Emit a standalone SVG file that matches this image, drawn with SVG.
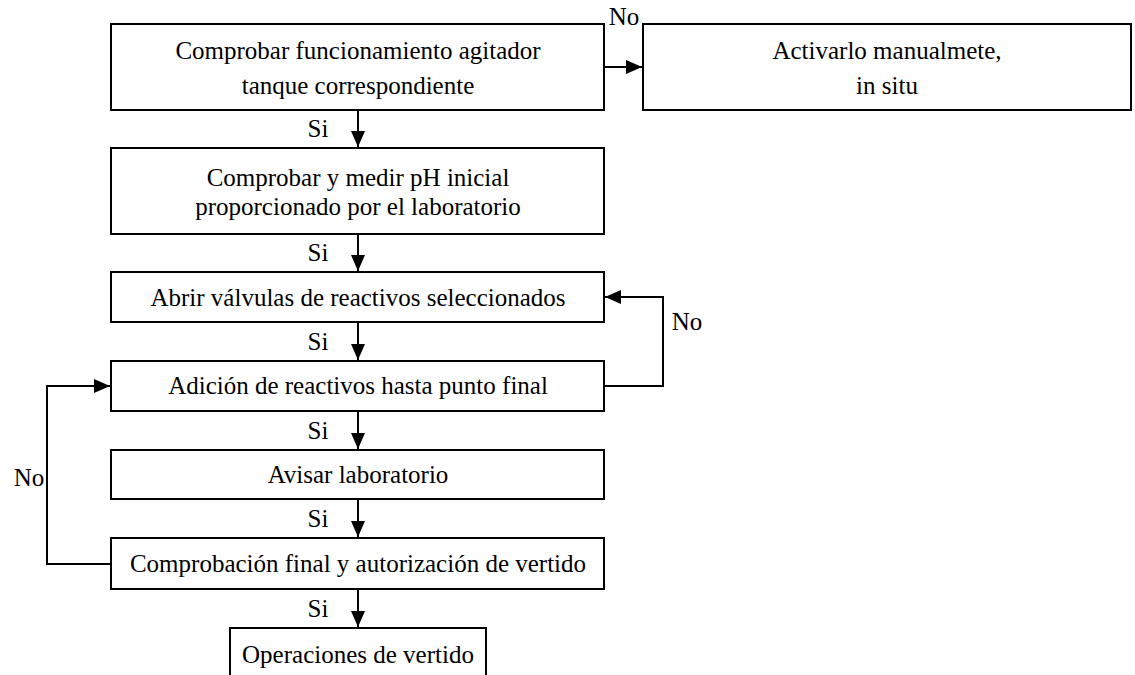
<svg xmlns="http://www.w3.org/2000/svg" width="1135" height="675" viewBox="0 0 1135 675">
  <style>
    .box { fill: #ffffff; stroke: #000000; stroke-width: 2; }
    .lbl { font-family: "Liberation Serif", "Times New Roman", serif; font-size: 25px; fill: #000000; text-anchor: middle; }
    .tag { font-family: "Liberation Serif", "Times New Roman", serif; font-size: 25px; fill: #000000; text-anchor: middle; }
    .wire { fill: none; stroke: #000000; stroke-width: 2; }
  </style>
  <defs>
    <marker id="head" viewBox="0 0 16 14" refX="16" refY="7" markerWidth="16" markerHeight="14" markerUnits="userSpaceOnUse" orient="auto">
      <path d="M0,0 L16,7 L0,14 Z" fill="#000000"/>
    </marker>
  </defs>
  <rect width="1135" height="675" fill="#ffffff"/>

  <!-- connectors -->
  <g id="connectors">
    <path class="wire" d="M604,67 H642" marker-end="url(#head)"/>
    <path class="wire" d="M358,110 V147" marker-end="url(#head)"/>
    <path class="wire" d="M358,234 V271" marker-end="url(#head)"/>
    <path class="wire" d="M358,322 V360" marker-end="url(#head)"/>
    <path class="wire" d="M358,411 V449" marker-end="url(#head)"/>
    <path class="wire" d="M358,499 V537" marker-end="url(#head)"/>
    <path class="wire" d="M358,589 V627" marker-end="url(#head)"/>
    <path class="wire" d="M604,386 H663 V297 H605" marker-end="url(#head)"/>
    <path class="wire" d="M111,564 H47 V386 H110" marker-end="url(#head)"/>
    <text class="tag" x="624" y="25">No</text>
    <text class="tag" x="318" y="137">Si</text>
    <text class="tag" x="318" y="261">Si</text>
    <text class="tag" x="318" y="350">Si</text>
    <text class="tag" x="318" y="439">Si</text>
    <text class="tag" x="318" y="527">Si</text>
    <text class="tag" x="318" y="617">Si</text>
    <text class="tag" x="687" y="330">No</text>
    <text class="tag" x="29" y="486">No</text>
  </g>

  <!-- process steps -->
  <g id="n1">
    <rect class="box" x="111" y="24" width="493" height="86"/>
    <text class="lbl" x="358" y="59">Comprobar funcionamiento agitador</text>
    <text class="lbl" x="358" y="94">tanque correspondiente</text>
  </g>
  <g id="n2">
    <rect class="box" x="643" y="24" width="488" height="86"/>
    <text class="lbl" x="887" y="59">Activarlo manualmete,</text>
    <text class="lbl" x="887" y="94">in situ</text>
  </g>
  <g id="n3">
    <rect class="box" x="111" y="148" width="493" height="86"/>
    <text class="lbl" x="358" y="186">Comprobar y medir pH inicial</text>
    <text class="lbl" x="358" y="215">proporcionado por el laboratorio</text>
  </g>
  <g id="n4">
    <rect class="box" x="111" y="272" width="493" height="50"/>
    <text class="lbl" x="358" y="306">Abrir válvulas de reactivos seleccionados</text>
  </g>
  <g id="n5">
    <rect class="box" x="111" y="361" width="493" height="50"/>
    <text class="lbl" x="358" y="394">Adición de reactivos hasta punto final</text>
  </g>
  <g id="n6">
    <rect class="box" x="111" y="450" width="493" height="49"/>
    <text class="lbl" x="358" y="483">Avisar laboratorio</text>
  </g>
  <g id="n7">
    <rect class="box" x="111" y="538" width="493" height="51"/>
    <text class="lbl" x="358" y="572">Comprobación final y autorización de vertido</text>
  </g>
  <g id="n8">
    <path class="box" d="M230,690 V628 H486 V690"/>
    <text class="lbl" x="358" y="663">Operaciones de vertido</text>
  </g>
</svg>
